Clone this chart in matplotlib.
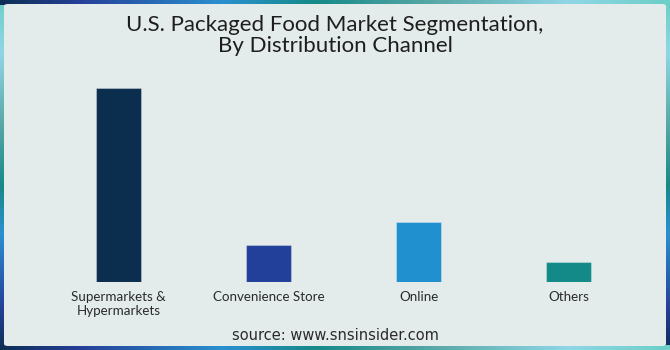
import numpy as np
import matplotlib
matplotlib.use("Agg")
import matplotlib.pyplot as plt
from matplotlib.patches import FancyBboxPatch
from matplotlib.colors import LinearSegmentedColormap

categories = ["Supermarkets &\nHypermarkets", "Convenience Store", "Online", "Others"]
values = [62.4, 11.9, 19.3, 6.4]
colors = ["#0b2e4f", "#22409a", "#2190cf", "#138a88"]
title = "U.S. Packaged Food Market Segmentation,\nBy Distribution Channel"
source = "source: www.snsinsider.com"

W, H = 670, 350
fig = plt.figure(figsize=(W / 100, H / 100), dpi=100)

# gradient frame
frame_cmap = LinearSegmentedColormap.from_list(
    "frame",
    [(0.0, "#0d2f55"), (0.12, "#26409a"), (0.33, "#2a90d0"), (0.47, "#168a88"),
     (0.65, "#5aa8a8"), (0.85, "#90d6e6"), (1.0, "#6ccfc8")])
bg = fig.add_axes([0, 0, 1, 1])
bg.set_axis_off()
yy, xx = np.mgrid[0:H, 0:W]
t = np.where((yy < 5) | (yy > H - 6), xx / (W - 1), 1 - yy / (H - 1))
bg.imshow(frame_cmap(t), aspect="auto", extent=[0, 1, 0, 1], origin="upper",
          interpolation="nearest")
bg.add_patch(FancyBboxPatch((4 / W, 4 / H), 662 / W, 342 / H,
                            boxstyle="round,pad=0,rounding_size=0.006",
                            fc="#e3ecea", ec="none", transform=bg.transAxes))
bg.set_xlim(0, 1)
bg.set_ylim(0, 1)

ax = fig.add_axes([43.5 / W, 68 / H, 600 / W, 194 / H])
ax.set_facecolor("none")
x = np.arange(len(categories))
ax.bar(x, values, width=0.3, color=colors, edgecolor=[(1, 1, 1, 0.3)] * 4, linewidth=0.8)
ax.set_xlim(-0.5, 3.5)
ax.set_ylim(0, values[0])
ax.set_xticks(x)
ax.set_xticklabels(categories, fontsize=9.6, color="#2a2a2a", family="Lato", linespacing=1.15)
ax.tick_params(axis="x", length=0, pad=6.5)
ax.set_yticks([])
for s in ax.spines.values():
    s.set_visible(False)

fig.text(0.5, 1 - 35.5 / H, title, ha="center", va="center", fontsize=16, color="#1e1e1e",
         family="Lato", linespacing=1.08)
fig.text(0.5, 1 - 335 / H, source, ha="center", va="center", fontsize=10.5, color="#2a2a2a",
         family="DejaVu Sans")

fig.savefig("out.png", dpi=100)
